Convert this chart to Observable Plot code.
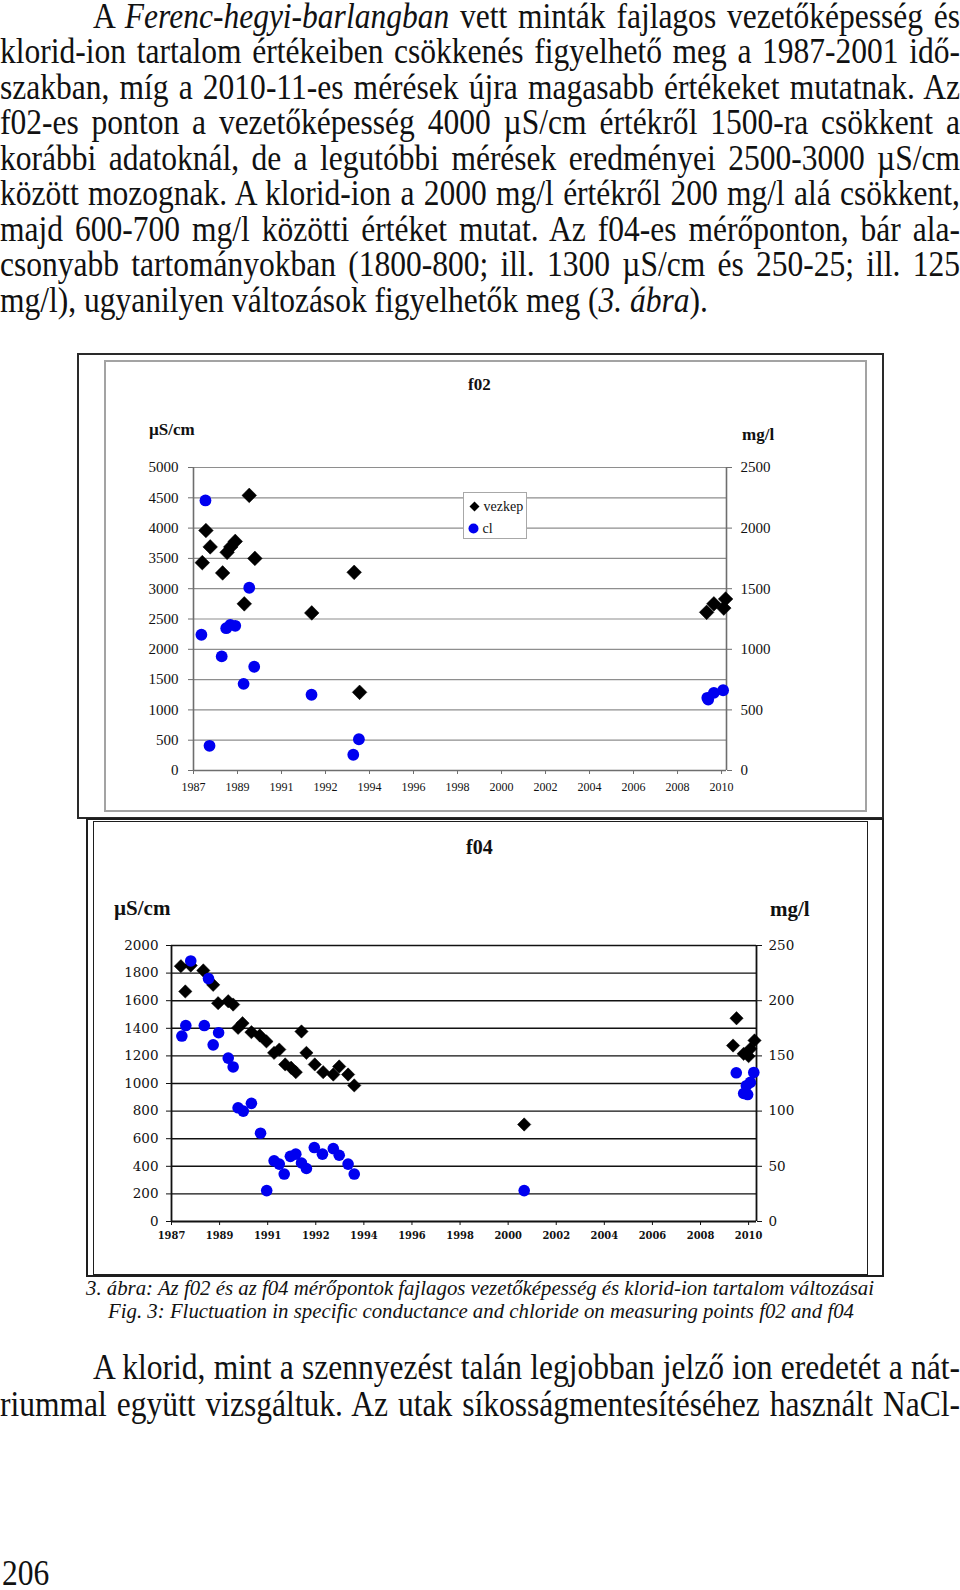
<!DOCTYPE html>
<html><head><meta charset="utf-8">
<script src="https://cdn.jsdelivr.net/npm/d3@7"></script>
<script src="https://cdn.jsdelivr.net/npm/@observablehq/plot@0.6"></script>
<style>
html,body{margin:0;padding:0;background:#fff;}
body{width:960px;height:1590px;position:relative;overflow:hidden;font-family:"Liberation Serif","Times New Roman",serif;color:#111;}
.ln{position:absolute;font-size:35px;line-height:40px;transform-origin:0 50%;text-align:justify;text-align-last:justify;white-space:normal;}
.cap{position:absolute;font-size:21px;line-height:26px;font-style:italic;transform-origin:0 50%;white-space:nowrap;}
.lbl{position:absolute;transform:translate(0,-50%);white-space:nowrap;line-height:1.15;}
.box{position:absolute;box-sizing:border-box;}
.svgwrap{position:absolute;}
.svgwrap svg{overflow:visible;}
</style></head><body>
<script>
// ---------- shared x axis (Excel date axis) ----------
const xTickLabels = ["1987","1989","1991","1992","1994","1996","1998","2000","2002","2004","2006","2008","2010"];
const xTickStart = 1987.12;   // date (decimal year) of the first tick
const xTickStep = 1.95;       // years between ticks

// ---------- f02 ----------
const f02LeftTicks = [0,500,1000,1500,2000,2500,3000,3500,4000,4500,5000];   // µS/cm
const f02RightTicks = [0,500,1000,1500,2000,2500];                          // mg/l
const f02VezYears = [1987.51,1987.67,1987.86,1988.41,1988.61,1988.77,1988.97,1989.37,1989.59,1989.84,1992.36,1994.24,1994.48,2009.86,2010.18,2010.62,2010.70];
const f02Vezkep   = [3430,3960,3690,3260,3600,3690,3780,2750,4540,3500,2600,3270,1290,2610,2750,2680,2830];
const f02ClYears  = [1987.47,1987.65,1987.83,1988.37,1988.57,1988.75,1988.97,1989.34,1989.59,1989.81,1992.35,1994.20,1994.45,2009.89,2009.93,2010.18,2010.59];
const f02Cl       = [1120,2228,204,941,1174,1202,1194,715,1508,856,625,130,258,600,585,641,662];

// ---------- f04 ----------
const f04LeftTicks = [0,200,400,600,800,1000,1200,1400,1600,1800,2000];      // µS/cm
const f04RightTicks = [0,50,100,150,200,250];                               // mg/l
const f04VezYears = [1987.50,1987.68,1987.90,1988.41,1988.81,1989.01,1989.42,1989.62,1989.82,1990.00,1990.36,1990.70,1990.97,1991.28,1991.49,1991.73,1991.97,1992.16,1992.39,1992.59,1992.93,1993.27,1993.68,1993.92,1994.28,1994.53,2001.42,2009.89,2010.03,2010.32,2010.52,2010.59,2010.76];
const f04Vezkep   = [1850,1667,1855,1819,1715,1582,1596,1572,1403,1437,1372,1348,1305,1222,1246,1138,1114,1082,1377,1222,1138,1082,1065,1123,1065,986,703,1275,1473,1215,1198,1251,1312];
const f04ClYears  = [1987.54,1987.70,1987.90,1988.45,1988.62,1988.81,1989.03,1989.42,1989.62,1989.82,1990.03,1990.36,1990.73,1990.98,1991.28,1991.49,1991.69,1991.94,1992.16,1992.39,1992.59,1992.91,1993.24,1993.68,1993.92,1994.28,1994.53,2001.42,2010.02,2010.73,2010.59,2010.43,2010.32,2010.48];
const f04Cl       = [168,177.5,236,177.5,220,160,171,148,140,103,100,107,80,28,55,52,43,59,61,53,48,67,61,66,60,52,43,28,134.7,135,126,123,116,115];

// ---------- texts ----------
const para1 = [
  'A <i>Ferenc-hegyi-barlangban</i> vett minták fajlagos vezetőképesség és',
  'klorid-ion tartalom értékeiben csökkenés figyelhető meg a 1987-2001 idő-',
  'szakban, míg a 2010-11-es mérések újra magasabb értékeket mutatnak. Az',
  'f02-es ponton a vezetőképesség 4000 µS/cm értékről 1500-ra csökkent a',
  'korábbi adatoknál, de a legutóbbi mérések eredményei 2500-3000 µS/cm',
  'között mozognak. A klorid-ion a 2000 mg/l értékről 200 mg/l alá csökkent,',
  'majd 600-700 mg/l közötti értéket mutat. Az f04-es mérőponton, bár ala-',
  'csonyabb tartományokban (1800-800; ill. 1300 µS/cm és 250-25; ill. 125',
  'mg/l), ugyanilyen változások figyelhetők meg (<i>3. ábra</i>).'
];
const para2 = [
  'A klorid, mint a szennyezést talán legjobban jelző ion eredetét a nát-',
  'riummal együtt vizsgáltuk. Az utak síkosságmentesítéséhez használt NaCl-'
];
const captions = [
  '3. ábra: Az f02 és az f04 mérőpontok fajlagos vezetőképesség és klorid-ion tartalom változásai',
  'Fig. 3: Fluctuation in specific conductance and chloride on measuring points f02 and f04'
];
const pageNumber = '206';

// ---------- layout ----------
const body = document.body;
function measure(html, cls) {
  const s = document.createElement('span');
  s.className = cls;
  s.style.cssText = 'position:absolute;visibility:hidden;white-space:nowrap;display:inline-block;width:auto;left:0;top:0;transform:none;text-align:left;text-align-last:auto;';
  s.innerHTML = html;
  body.appendChild(s);
  const w = s.getBoundingClientRect().width;
  s.remove();
  return w;
}
const bodyLines = [];
para1.forEach((h, i) => bodyLines.push({html: h, x0: i === 0 ? 93 : 0, x1: i === para1.length - 1 ? null : 960, cy: 17 + i * 35.45}));
para2.forEach((h, i) => bodyLines.push({html: h, x0: i === 0 ? 93 : 0, x1: 960, cy: 1368 + i * 36.5}));
bodyLines.forEach(l => l.w = measure(l.html, 'ln'));
let c = 1;
bodyLines.forEach(l => { if (l.x1) c = Math.min(c, (l.x1 - l.x0) / l.w); });
c *= 0.995;
bodyLines.forEach(l => {
  const d = document.createElement('div');
  d.className = 'ln';
  d.innerHTML = l.html;
  const W = l.x1 ? (l.x1 - l.x0) / c : l.w + 4;
  d.style.left = l.x0 + 'px';
  d.style.top = l.cy + 'px';
  d.style.width = W + 'px';
  d.style.transform = `translateY(-50%) scaleX(${c})`;
  if (!l.x1) { d.style.textAlign = 'left'; d.style.textAlignLast = 'left'; }
  body.appendChild(d);
});
{
  const d = document.createElement('div');
  d.className = 'ln';
  d.textContent = pageNumber;
  d.style.cssText = `left:2px;top:1574px;width:200px;line-height:28px;text-align:left;text-align-last:left;transform:translateY(-50%) scaleX(${c});`;
  body.appendChild(d);
}
// captions
[[86, 874, 1288], [108, 854, 1311]].forEach(([x0, x1, cy], i) => {
  const w = measure(captions[i], 'cap');
  const d = document.createElement('div');
  d.className = 'cap';
  d.textContent = captions[i];
  d.style.left = x0 + 'px';
  d.style.top = cy + 'px';
  d.style.transform = `translateY(-50%) scaleX(${(x1 - x0) / w})`;
  body.appendChild(d);
});

function addBox(l, t, w, h, border, bg) {
  const d = document.createElement('div');
  d.className = 'box';
  d.style.cssText = `left:${l}px;top:${t}px;width:${w}px;height:${h}px;border:${border};${bg ? 'background:' + bg + ';' : ''}`;
  body.appendChild(d);
  return d;
}
function addLabel(text, x, cy, style) {
  const d = document.createElement('div');
  d.className = 'lbl';
  d.textContent = text;
  d.style.cssText += `left:${x}px;top:${cy}px;` + style;
  body.appendChild(d);
  return d;
}

const xTicks = xTickLabels.map((_, i) => xTickStart + i * xTickStep);
const fmtX = d => xTickLabels[Math.round((d - xTickStart) / xTickStep)];

function drawChart(o) {
  const vez = o.vezYears.map((year, i) => ({year, v: o.vezValues[i]}));
  const cl = o.clYears.map((year, i) => ({year, cl: o.clValues[i]}));
  const leftMax = o.leftTicks[o.leftTicks.length - 1];
  const rightMax = o.rightTicks[o.rightTicks.length - 1];
  const ratio = leftMax / rightMax;
  const yText = {fontFamily: o.yFont, fontSize: o.ySize};
  const plot = Plot.plot({
    width: o.width, height: o.height,
    marginLeft: o.mL, marginRight: o.mR, marginTop: o.mT, marginBottom: o.mB,
    style: {background: "transparent", overflow: "visible", color: "#111", fontFamily: o.yFont},
    x: {domain: [xTickStart, o.xMax], label: null},
    y: {domain: [0, leftMax], label: null},
    marks: [
      Plot.ruleY(o.leftTicks.filter(t => t > 0), {stroke: o.grid, strokeWidth: o.gridW}),
      Plot.ruleY([0], {stroke: o.axis, strokeWidth: o.axisW}),
      Plot.ruleX([xTickStart, o.xMax], {stroke: o.axis, strokeWidth: o.axisW}),
      Plot.axisY(o.leftTicks, {anchor: "left", label: null, tickSize: 5, tickPadding: o.padL, stroke: o.axis, tickFormat: d => String(d), ...yText}),
      Plot.axisY(o.rightTicks.map(t => t * ratio), {anchor: "right", label: null, tickSize: 5, tickPadding: o.padR, stroke: o.axis, tickFormat: d => String(Math.round(d / ratio)), ...yText}),
      Plot.axisX(xTicks, {anchor: "bottom", label: null, tickSize: 4, tickPadding: o.padX, stroke: o.axis, tickFormat: fmtX, fontFamily: o.xFont, fontSize: o.xSize, fontWeight: o.xWeight}),
      Plot.dot(vez, {x: "year", y: "v", symbol: "diamond2", r: o.dR, fill: "#000", stroke: "#000", strokeWidth: 0.5}),
      Plot.dot(cl, {x: "year", y: d => d.cl * ratio, r: o.cR, fill: "#0000f0", stroke: "none"})
    ]
  });
  const wrap = document.createElement('div');
  wrap.className = 'svgwrap';
  wrap.style.left = o.left + 'px';
  wrap.style.top = o.top + 'px';
  wrap.appendChild(plot);
  body.appendChild(wrap);
}

// f02 frames
addBox(77, 353, 807, 466, '2px solid #2a2a2a');
addBox(104, 360, 763, 452, '2px solid #a3a3a3');
drawChart({
  left: 104, top: 360, width: 763, height: 451, mL: 89, mR: 141, mT: 107, mB: 41,
  xMax: 2010.74, leftTicks: f02LeftTicks, rightTicks: f02RightTicks,
  vezYears: f02VezYears, vezValues: f02Vezkep, clYears: f02ClYears, clValues: f02Cl,
  grid: "#8e8e8e", gridW: 1.2, axis: "#6e6e6e", axisW: 1.6,
  yFont: '"Liberation Serif", serif', ySize: 15, xFont: '"Liberation Serif", serif', xSize: 12, xWeight: "normal",
  padL: 10, padR: 9, padX: 8, dR: 6.6, cR: 5.9
});
addLabel('f02', 468, 385, 'font-weight:bold;font-size:17px;');
addLabel('µS/cm', 149, 430, 'font-weight:bold;font-size:17px;');
addLabel('mg/l', 742, 435, 'font-weight:bold;font-size:17px;');
// f02 legend
{
  const lg = addBox(463, 492, 64, 47, '1px solid #a8a8a8', '#fff');
  lg.style.fontSize = '14px';
  lg.innerHTML =
    '<div style="position:absolute;left:5px;top:6px;white-space:nowrap;line-height:16px;"><svg width="11" height="11" style="vertical-align:-1px"><path d="M5.5 0.5 L10.5 5.5 L5.5 10.5 L0.5 5.5Z" fill="#000"/></svg> vezkep</div>' +
    '<div style="position:absolute;left:4px;top:28px;white-space:nowrap;line-height:16px;"><svg width="11" height="11" style="vertical-align:-1px"><circle cx="5.5" cy="5.5" r="5" fill="#0000f0"/></svg> cl</div>';
}

// f04 frames
addBox(86, 818, 798, 459, '2px solid #1e1e1e');
addBox(93, 821, 775, 454, '1.5px solid #1e1e1e');
drawChart({
  left: 93, top: 821, width: 775, height: 454, mL: 78, mR: 112, mT: 124, mB: 54,
  xMax: 2010.84, leftTicks: f04LeftTicks, rightTicks: f04RightTicks,
  vezYears: f04VezYears, vezValues: f04Vezkep, clYears: f04ClYears, clValues: f04Cl,
  grid: "#111", gridW: 1.4, axis: "#111", axisW: 1.8,
  yFont: '"DejaVu Serif", serif', ySize: 13.5, xFont: '"DejaVu Serif Condensed", "DejaVu Serif", serif', xSize: 11, xWeight: "bold",
  padL: 8, padR: 7, padX: 6, dR: 6.0, cR: 5.8
});
addLabel('f04', 466, 847, 'font-size:20px;font-weight:bold;');
addLabel('µS/cm', 114, 908, 'font-size:21px;font-weight:bold;');
addLabel('mg/l', 770, 909, 'font-size:21px;font-weight:bold;');
</script>
</body></html>
